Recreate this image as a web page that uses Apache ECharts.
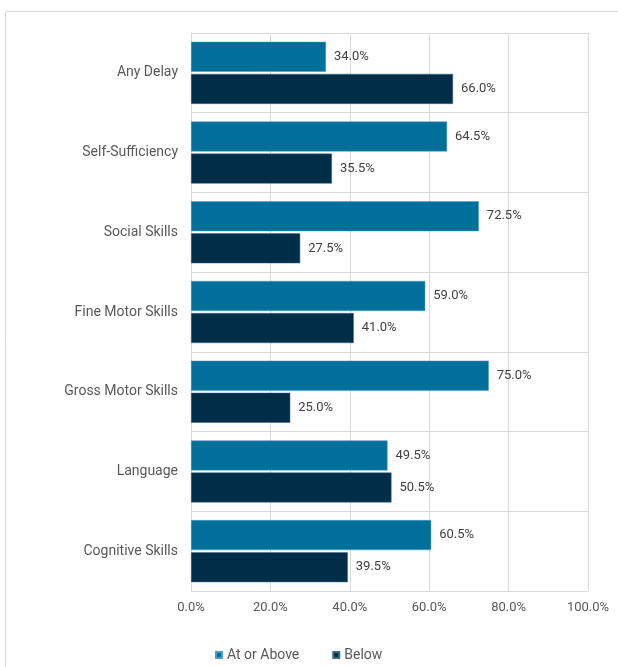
<!DOCTYPE html>
<html><head><meta charset="utf-8">
<script src="https://cdn.jsdelivr.net/npm/echarts@6/dist/echarts.min.js"></script>
<style>html,body{margin:0;padding:0;background:#fff}#c{width:618px;height:667px}</style>
</head><body><div id="c"></div>
<script>
const categories = ["Any Delay","Self-Sufficiency","Social Skills","Fine Motor Skills","Gross Motor Skills","Language","Cognitive Skills"];
const atOrAbove = [34.0,64.5,72.5,59.0,75.0,49.5,60.5];
const below = [66.0,35.5,27.5,41.0,25.0,50.5,39.5];
const seriesNames = ["At or Above","Below"];
const tickValues = [0,20,40,60,80,100];

const chart = echarts.init(document.getElementById('c'), null, {renderer:'canvas'});
const lbl = {show:true, position:'right', distance:8, color:'#404040', fontFamily:'Roboto', fontSize:13,
  formatter: p => p.value.toFixed(1) + '%'};
chart.setOption({
  animation:false,
  textStyle:{fontFamily:'Roboto'},
  graphic:[{type:'rect', shape:{x:5.5,y:11.5,width:800,height:800}, style:{fill:'none',stroke:'#d9d9d9',lineWidth:1}, silent:true}],
  grid:{left:191, right:30, top:33, bottom:76, containLabel:false},
  legend:{data:seriesNames, left:210, bottom:0, itemWidth:6, itemHeight:6, itemGap:33, icon:'rect',
    textStyle:{color:'#595959', fontSize:14, fontFamily:'Roboto'}},
  xAxis:{type:'value', min:tickValues[0], max:tickValues[tickValues.length-1], interval:20,
    axisLine:{show:false}, axisTick:{show:false},
    splitLine:{show:true, lineStyle:{color:'#d9d9d9', width:1}},
    axisLabel:{color:'#595959', fontSize:13, margin:10, formatter: v => v.toFixed(1) + '%'}},
  yAxis:{type:'category', data:categories, inverse:true,
    axisLine:{show:true, lineStyle:{color:'#d9d9d9'}}, axisTick:{show:false},
    splitLine:{show:true, lineStyle:{color:'#d9d9d9', width:1}},
    axisLabel:{color:'#595959', fontSize:14, margin:13}},
  series:[
    {name:seriesNames[0], type:'bar', data:atOrAbove, barWidth:30, barGap:'7%',
      itemStyle:{color:'#00709b', borderColor:'#4a9cc0', borderWidth:0.5}, label:lbl},
    {name:seriesNames[1], type:'bar', data:below, barWidth:30, barGap:'7%',
      itemStyle:{color:'#002e48', borderColor:'#3f6b85', borderWidth:0.5}, label:lbl}
  ]
});
</script></body></html>
